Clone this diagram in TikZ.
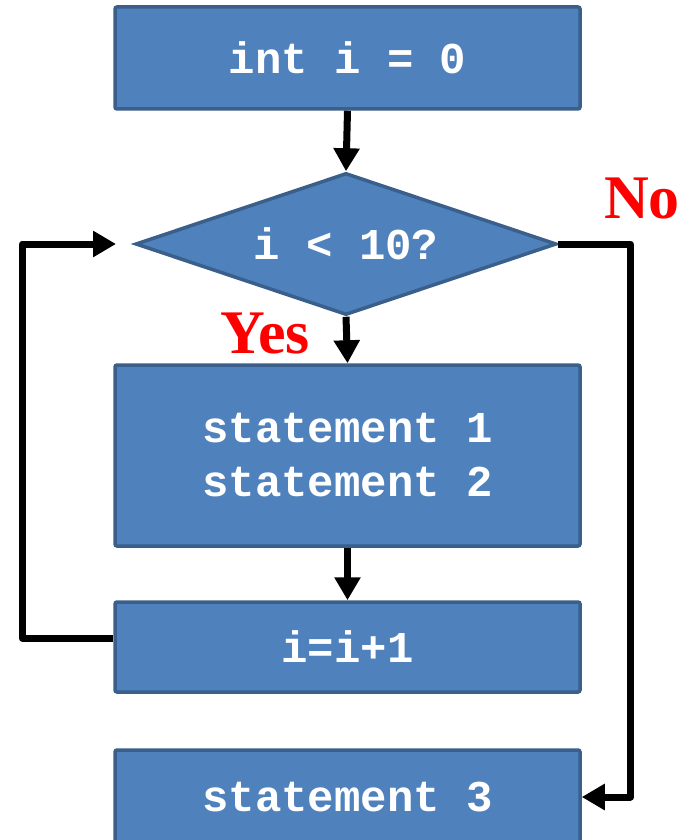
\documentclass[tikz,border=0pt]{standalone}
\usepackage{fontspec}
\setmonofont{Liberation Mono}
\newfontfamily\labelfont{Liberation Serif}
\usetikzlibrary{shapes.geometric,arrows.meta}
\definecolor{boxfill}{HTML}{4F81BD}
\definecolor{boxline}{HTML}{3A5F8B}
\definecolor{labelred}{HTML}{FF0000}
\tikzset{
  stepbox/.style={rectangle, draw=boxline, fill=boxfill, line width=3.5pt,
    rounded corners=2pt, minimum width=465pt, inner sep=0pt,
    text=white, font=\ttfamily\bfseries\fontsize{44}{54}\selectfont, align=center},
  testbox/.style={diamond, draw=boxline, fill=boxfill, line width=3.5pt,
    shape aspect=2.96, minimum width=421pt, minimum height=142pt, inner sep=0pt,
    text=white, font=\ttfamily\bfseries\fontsize{44}{54}\selectfont},
  flow/.style={line width=7pt, line join=round,
    -{Triangle[length=23pt,width=25pt]}},
  branch/.style={text=labelred, font=\labelfont\bfseries\fontsize{62}{62}\selectfont,
    inner sep=0pt, anchor=base}
}
\begin{document}
\begin{tikzpicture}[x=1pt,y=-1pt]
  \useasboundingbox (0,0) rectangle (690,840);
  \clip (0,0) rectangle (690,840);
  % process steps and the loop test
  \node[stepbox, minimum height=102pt] (init) at (347.5,58) {int i = 0};
  \node[testbox] (test) at (346,244) {i < 10?};
  \node[stepbox, minimum height=181pt] (body) at (347.5,455.5) {statement 1\\statement 2};
  \node[stepbox, minimum height=90pt] (incr) at (347.5,647) {i=i+1};
  \node[stepbox, minimum height=94pt] (after) at (347.5,797) {statement 3};
  % branch labels
  \node[branch] (yes) at (265,353) {Yes};
  \node[branch] (no) at (642,218) {No};
  \coordinate (loopend) at (116,244);
  % connectors
  \draw[flow] (init.south) -- (test.north);
  \draw[flow] (test.south) -- (body.north);
  \draw[flow] (body.south) -- (incr.north);
  \draw[flow] ([yshift=9pt]incr.west) -- ++(-91,0) |- (loopend);
  \draw[flow] (test.east) -- ++(72,0) |- (after.east);
\end{tikzpicture}
\end{document}
